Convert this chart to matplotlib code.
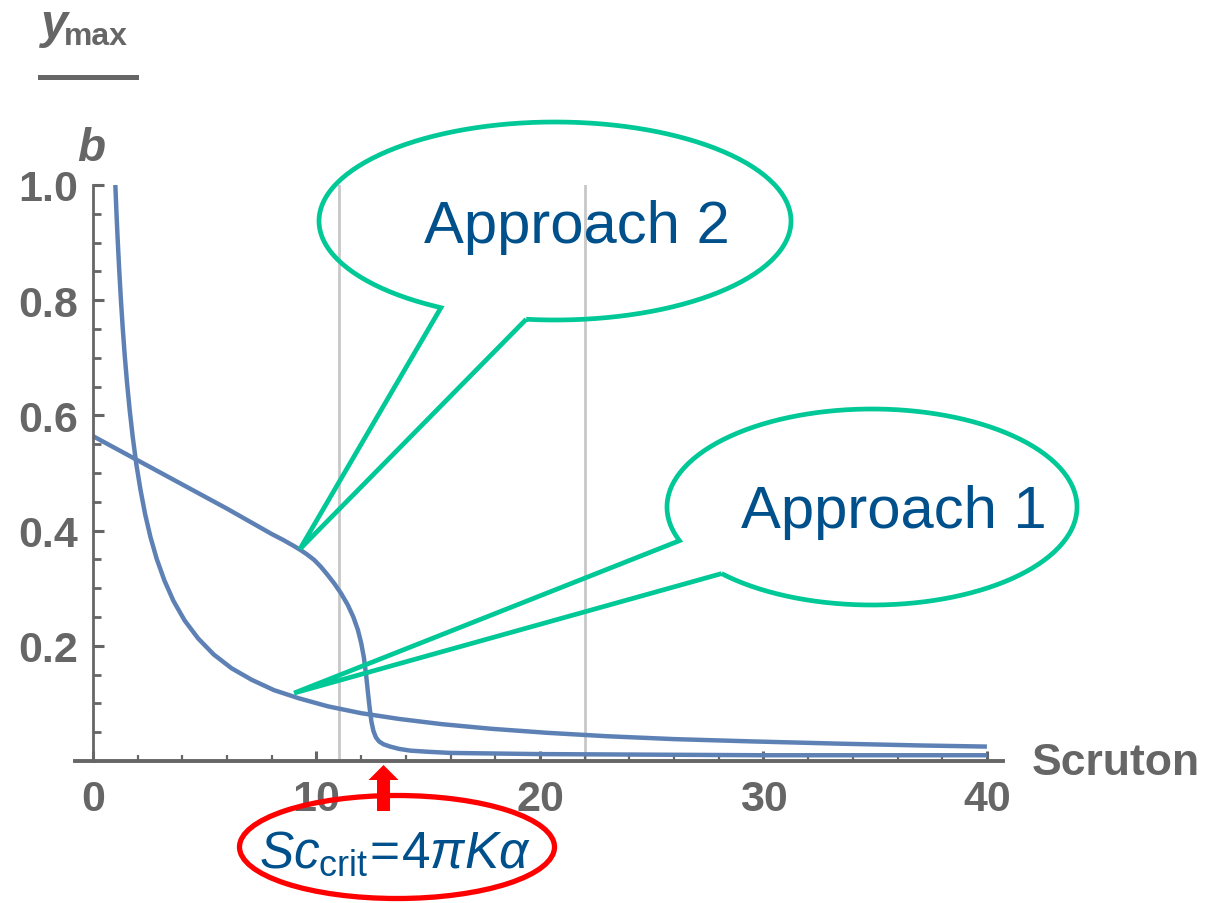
import matplotlib
matplotlib.use("Agg")
import matplotlib.pyplot as plt
import matplotlib.transforms as mtransforms
import numpy as np
from matplotlib.lines import Line2D
from matplotlib.patches import Ellipse, FancyArrow, PathPatch
from matplotlib.path import Path

W, H = 1212, 904

# b / y_max against Scruton number
# approach 1: hyperbolic decay
sc_approach1 = [1.0, 1.05, 1.1, 1.17, 1.25, 1.33, 1.42, 1.52, 1.64, 1.78, 1.94,
                2.12, 2.33, 2.57, 2.85, 3.2, 3.6, 4.1, 4.7, 5.4, 6.2, 7.1, 8.1,
                9.2, 10.5, 12.0, 13.7, 15.6, 17.8, 20.3, 23.0, 26.0, 29.5, 33.5,
                37.0, 40.0]
b_approach1 = [1.0, 0.952, 0.909, 0.855, 0.800, 0.752, 0.704, 0.658, 0.610,
               0.562, 0.515, 0.472, 0.429, 0.389, 0.351, 0.313, 0.278, 0.244,
               0.213, 0.185, 0.161, 0.141, 0.123, 0.109, 0.095, 0.083, 0.073,
               0.064, 0.056, 0.049, 0.043, 0.038, 0.034, 0.030, 0.027, 0.025]

# approach 2: slow drop, then collapse just below Sc_crit
sc_approach2 = [0, 1, 2, 3, 4, 5, 6, 7, 8, 8.5, 9, 9.3, 9.6, 9.9, 10.2, 10.5,
                10.8, 11.1, 11.4, 11.65, 11.85, 12.0, 12.12, 12.22, 12.3, 12.38,
                12.46, 12.55, 12.66, 12.8, 13.0, 13.3, 13.7, 14.2, 15, 16, 18,
                20, 25, 30, 40]
b_approach2 = [0.564, 0.543, 0.522, 0.501, 0.480, 0.459, 0.438, 0.416, 0.394,
               0.384, 0.373, 0.366, 0.358, 0.349, 0.337, 0.323, 0.308, 0.291,
               0.271, 0.250, 0.228, 0.205, 0.180, 0.150, 0.120, 0.092, 0.068,
               0.052, 0.041, 0.034, 0.029, 0.025, 0.021, 0.018, 0.016, 0.014,
               0.013, 0.012, 0.011, 0.010, 0.010]

x_ticks = [0, 10, 20, 30, 40]
y_ticks = [0.2, 0.4, 0.6, 0.8, 1.0]
guide_sc = [11, 22]
sc_crit = 13.0

# where the callout tails touch the curves
tip_approach1 = (9.0, 0.118)
tip_approach2 = (9.26, 0.368)

GRAY = "#666666"
CURVE = "#5E81B5"
GREEN = "#00C896"
NAVY = "#00508C"

plt.rcParams["font.family"] = ["Liberation Sans", "DejaVu Sans"]
plt.rcParams["mathtext.fontset"] = "custom"
plt.rcParams["mathtext.rm"] = "Liberation Sans"
plt.rcParams["mathtext.it"] = "Liberation Sans:italic"

fig = plt.figure(figsize=(W / 100, H / 100), dpi=100)
ax = fig.add_axes([75 / W, 1 - 762 / H, 928 / W, 576 / H])
ax.set_xlim(-0.805, 40.72)
ax.set_ylim(0, 1.0)

for sc in guide_sc:
    ax.axvline(sc, color="#C8C8C8", lw=2.0, zorder=0)

ax.plot(sc_approach1, b_approach1, color=CURVE, lw=3.2, solid_capstyle="butt",
        solid_joinstyle="round")
ax.plot(sc_approach2, b_approach2, color=CURVE, lw=3.2, solid_capstyle="butt",
        solid_joinstyle="round")

# Mathematica-style axes crossing at the origin
for side in ("top", "right"):
    ax.spines[side].set_visible(False)
ax.spines["left"].set_position(("data", 0))
ax.spines["left"].set_bounds(0, 1.0)
ax.spines["left"].set_linewidth(2.0)
ax.spines["bottom"].set_linewidth(2.8)
ax.spines["left"].set_color(GRAY)
ax.spines["bottom"].set_color(GRAY)

ax.set_xticks(x_ticks)
ax.set_xticks(np.arange(0, 41, 2), minor=True)
ax.set_yticks(y_ticks)
ax.set_yticks(np.arange(0.05, 1.0, 0.05), minor=True)
ax.tick_params(which="both", direction="in", color=GRAY, labelcolor=GRAY,
               labelsize=31)
ax.tick_params(axis="x", which="major", length=7, width=2.2, pad=13)
ax.tick_params(axis="x", which="minor", length=4, width=1.6)
ax.tick_params(axis="y", which="major", length=8, width=2.2, pad=10.5)
ax.tick_params(axis="y", which="minor", length=6, width=2.0)
for lab in ax.get_xticklabels() + ax.get_yticklabels():
    lab.set_fontweight("bold")

# everything drawn outside the data area is placed in pixel space (y down)
pix = mtransforms.Affine2D().scale(1, -1).translate(0, H)

fig.text(1032, 775, "Scruton", transform=pix, fontsize=32, fontweight="bold",
         color=GRAY, ha="left", va="baseline")

# axis label: y_max / b as a fraction
fig.text(40, 38, "y", transform=pix, fontsize=35, style="italic",
         fontweight="bold", color=GRAY, va="baseline")
fig.text(64, 45, "max", transform=pix, fontsize=23, fontweight="bold",
         color=GRAY, va="baseline")
fig.add_artist(Line2D([40, 136], [78, 78], transform=pix, lw=3.6, color=GRAY))
fig.text(77, 161, "b", transform=pix, fontsize=33, style="italic",
         fontweight="bold", color=GRAY, va="baseline")


def to_pix(pt):
    x, y = ax.transData.transform(pt)
    return x, H - y


def callout(cx, cy, a, b, t_right, t_left, tip, label, baseline):
    tx, ty = to_pix(tip)
    t = np.radians(np.linspace(t_right, t_left - 360, 240))
    xs = cx + a * np.cos(t)
    ys = cy + b * np.sin(t)
    verts = list(zip(xs, ys)) + [(tx, ty), (xs[0], ys[0])]
    fig.add_artist(PathPatch(Path(verts), transform=pix, fill=False,
                             ec=GREEN, lw=3.4, joinstyle="miter"))
    fig.text(cx + 22, baseline, label, transform=pix, fontsize=43, color=NAVY,
             ha="center", va="baseline")


callout(555, 222, 236, 99, 97, 118.9, tip_approach2, "Approach 2", 243)
callout(872, 508, 205, 98, 137.2, 159.9, tip_approach1, "Approach 1", 528)

# critical Scruton number marker
arrow_x, _ = to_pix((sc_crit, 0))
fig.add_artist(FancyArrow(arrow_x, 812, 0, -46, width=13, head_width=30,
                          head_length=15, length_includes_head=True,
                          transform=pix, color="red", lw=0))
fig.add_artist(Ellipse((397, 848), 315, 103, transform=pix, fill=False,
                       ec="red", lw=3.8))
fig.text(395, 868, r"$Sc_{\mathrm{crit}}\!=\!4\pi K\alpha$", transform=pix,
         fontsize=37, color=NAVY, ha="center", va="baseline")

fig.savefig("out.png", dpi=100)
